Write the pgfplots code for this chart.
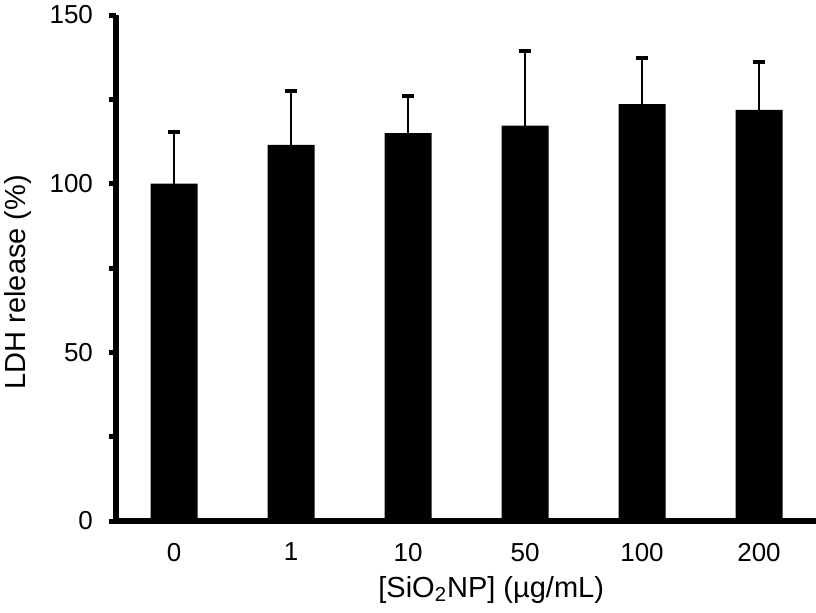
\documentclass[border=0pt]{standalone}
\usepackage{fontspec}
\setmainfont{Liberation Sans}
\usepackage{pgfplots}
\pgfplotsset{compat=1.18}
\begin{document}
\begin{tikzpicture}
\useasboundingbox (0,0) rectangle (408pt,306pt);
\begin{axis}[
  at={(58pt,45.5pt)}, anchor=south west,
  scale only axis, width=350pt, height=253pt,
  xmin=-0.496, xmax=5.487, ymin=0, ymax=150,
  axis x line*=bottom, axis y line*=left,
  axis line style={-, line width=3pt},
  xtick={0,1,2,3,4,5},
  xticklabels={0,1,10,50,100,200},
  x tick style={draw=none},
  ytick={0,50,100,150},
  minor ytick={25,75,125},
  y tick style={line width=2.5pt, black},
  tick align=outside,
  major tick length=3.5pt, minor tick length=3.5pt,
  tick label style={font=\fontsize{13}{15}\selectfont},
  /pgf/number format/assume math mode=true,
  xticklabel style={yshift=-4pt},
  yticklabel style={xshift=-4.5pt},
  xlabel={[SiO\textsubscript{2}NP] (µg/mL)},
  ylabel={LDH release (\%)},
  label style={font=\fontsize{14.5}{17}\selectfont},
  xlabel style={at={(axis description cs:0.536,-0.136)}, anchor=center},
  ylabel style={at={(axis description cs:-0.14,0.472)}, anchor=center, rotate=0},
  clip=false,
]
\addplot[ybar, bar width=23.5pt, fill=black, draw=none,
  error bars/.cd, y dir=plus, y explicit,
  error bar style={line width=1pt, black},
  error mark options={rotate=90, line width=2pt, mark size=3.2pt, black}]
  coordinates {
  (0,100) +- (0,15.3)
  (1,111.5) +- (0,16.0)
  (2,115.0) +- (0,11.0)
  (3,117.2) +- (0,22.1)
  (4,123.6) +- (0,13.7)
  (5,121.9) +- (0,14.2)
};
\end{axis}
\end{tikzpicture}
\end{document}
